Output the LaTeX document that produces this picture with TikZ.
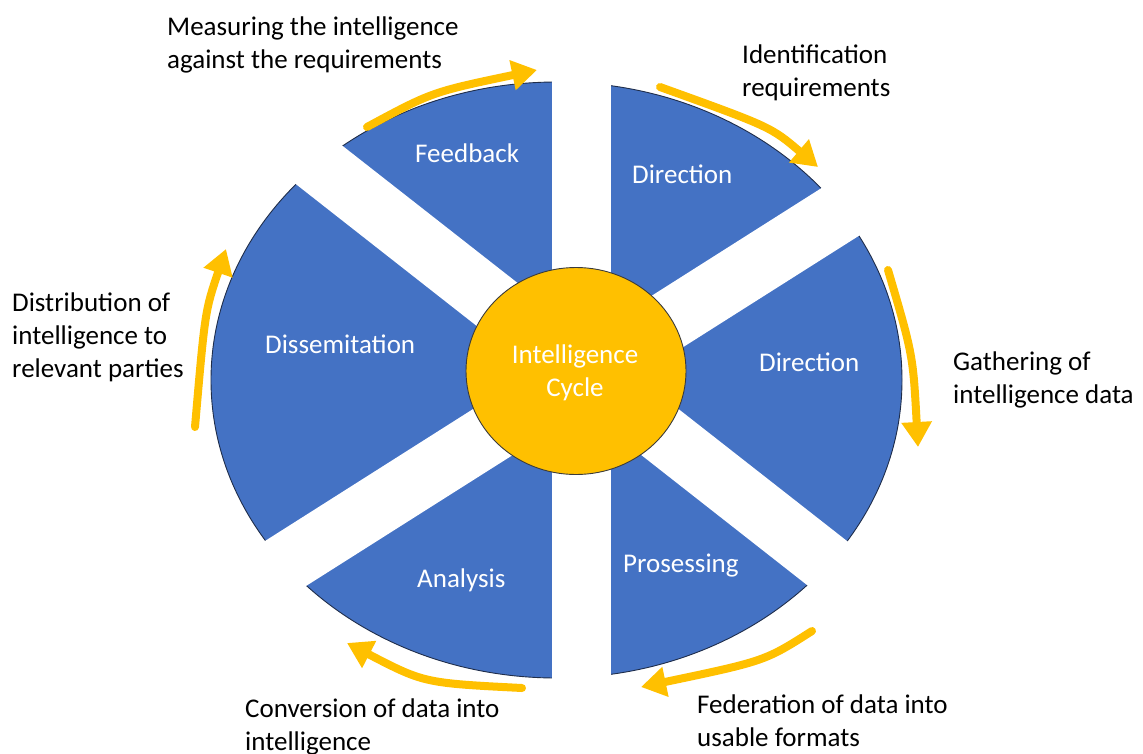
\documentclass[tikz,border=0pt]{standalone}
\usepackage{fontspec}
\setmainfont{Carlito}
\usetikzlibrary{arrows.meta,shapes.geometric}
\definecolor{wedgeblue}{HTML}{4472C4}
\definecolor{hubgold}{HTML}{FFC000}
\definecolor{rimline}{HTML}{1F2D4A}
\definecolor{hubline}{HTML}{3B3B3B}

\tikzset{
  txt/.style={font=\fontsize{27}{33}\selectfont, inner sep=0pt},
  seglabel/.style={txt, text=white, anchor=base west},
  % multi-line labels: the base anchor sits on the last line
  sidelabel/.style={txt, text=black, anchor=base west, align=left},
  flow/.style={draw=hubgold, line width=8pt, line cap=round,
    -{Triangle[width=29pt,length=25pt]}},
  gap/.style={fill=white},
}

\begin{document}
\begin{tikzpicture}[x=1pt,y=-1pt]
\useasboundingbox (0,0) rectangle (1143,753);

% outer wheel, later cut into six wedges by white gaps
\filldraw[fill=wedgeblue, draw=rimline, line width=0.9pt]
  (556.5,380) ellipse [x radius=345.5pt, y radius=298pt];

% the three white gaps between the wedges
\fill[gap] (552,50) rectangle (611,710);
\fill[gap] (243.4,68.2) -- (947.6,619.8) -- (909,665) -- (195,105) -- cycle;
\fill[gap] (154,611.4) -- (931,118.6) -- (967.2,167.2) -- (195.8,655.8) -- cycle;

% hub
\node[ellipse, fill=hubgold, draw=hubline, line width=0.9pt,
      minimum width=220pt, minimum height=207pt, inner sep=0pt]
      (hub) at (576,371) {};
\node[txt, text=white, align=center, anchor=base] (hubtext) at (575,396)
      {Intelligence\\Cycle};

% wedge labels
\node[seglabel] (feedback)      at (415,162) {Feedback};
\node[seglabel] (direction)     at (632,183) {Direction};
\node[seglabel] (collection)    at (759,371) {Direction};
\node[seglabel] (processing)    at (623,572) {Prosessing};
\node[seglabel] (analysis)      at (417,587) {Analysis};
\node[seglabel] (dissemination) at (265,353) {Dissemitation};

% step descriptions
\node[sidelabel] (measure)  at (167,68)  {Measuring the intelligence\\against the requirements};
\node[sidelabel] (identify) at (742,96)  {Identification\\requirements};
\node[sidelabel] (gather)   at (953,403) {Gathering of\\intelligence data};
\node[sidelabel] (federate) at (697,746) {Federation of data into\\usable formats};
\node[sidelabel] (convert)  at (245,750) {Conversion of data into\\intelligence};
\node[sidelabel] (share)    at (12,377)  {Distribution of\\intelligence to\\relevant parties};

% cycle arrows around the rim
\coordinate (a1s) at (367,127); \coordinate (a1e) at (537,70);
\coordinate (a2s) at (660,87);  \coordinate (a2e) at (818,167);
\coordinate (a3s) at (888,270); \coordinate (a3e) at (918,447);
\coordinate (a4s) at (812,631); \coordinate (a4e) at (641,687);
\coordinate (a5s) at (522,688); \coordinate (a5e) at (347,643);
\coordinate (a6s) at (195,427); \coordinate (a6e) at (226,249);

\draw[flow] (a1s) .. controls (432,92)  .. (a1e);
\draw[flow] (a2s) .. controls (771,127) .. (a2e);
\draw[flow] (a3s) .. controls (913,355) .. (a3e);
\draw[flow] (a4s) .. controls (765,661) .. (a4e);
\draw[flow] (a5s) .. controls (424,683) .. (a5e);
\draw[flow] (a6s) .. controls (205,311) .. (a6e);
\end{tikzpicture}
\end{document}
